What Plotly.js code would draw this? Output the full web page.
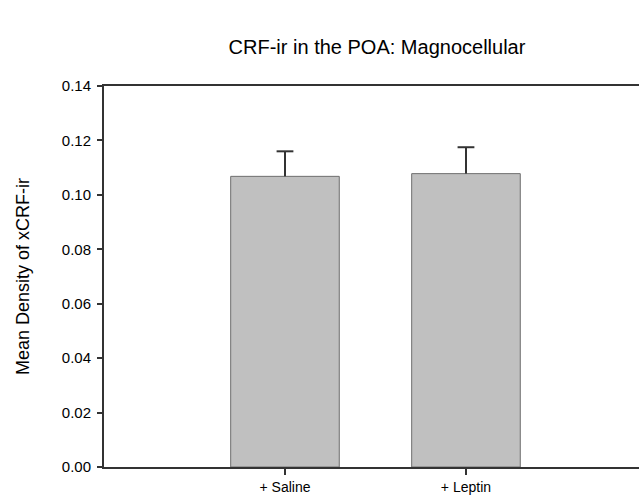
<!DOCTYPE html>
<html>
<head>
<meta charset="utf-8">
<script src="https://cdn.plot.ly/plotly-3.0.1.min.js"></script>
<style>html,body{margin:0;padding:0;background:#fff;}#chart{width:639px;height:497px;}</style>
</head>
<body>
<div id="chart"></div>
<script>
var categories = ["+ Saline", "+ Leptin"];
var meanDensity = [0.1068, 0.1078];
var errorPlus = [0.0092, 0.0097];
var yTickValues = [0, 0.02, 0.04, 0.06, 0.08, 0.10, 0.12, 0.14];
var yTickLabels = ["0.00", "0.02", "0.04", "0.06", "0.08", "0.10", "0.12", "0.14"];

var font = "Liberation Sans, Arial, sans-serif";
var dark = "#333333";

var bars = {
  type: "bar",
  x: categories,
  y: meanDensity,
  width: 0.6,
  marker: {color: "#c0c0c0", line: {color: "#6e6e6e", width: 1}},
  hoverinfo: "none"
};

// error bar stems: drawn from the bar top upward (no cap at the bar top)
var errTops = meanDensity.map(function (v, i) { return v + errorPlus[i]; });
var stems = {
  type: "scatter",
  mode: "markers",
  x: categories,
  y: errTops,
  marker: {symbol: "line-ew-open", size: 12, color: dark, line: {color: dark, width: 2}},
  error_y: {
    type: "data",
    symmetric: false,
    array: [0, 0],
    arrayminus: errorPlus,
    color: dark,
    thickness: 2,
    width: 0
  },
  hoverinfo: "none"
};

var layout = {
  width: 639,
  height: 497,
  paper_bgcolor: "#ffffff",
  plot_bgcolor: "#ffffff",
  margin: {l: 104, r: 0, t: 86, b: 30, pad: 0},
  showlegend: false,
  title: {
    text: "CRF-ir in the POA: Magnocellular",
    font: {family: font, size: 20, color: "#000"},
    x: 0.59, xref: "container", xanchor: "center",
    y: 0.905, yref: "container", yanchor: "middle"
  },
  xaxis: {
    type: "category",
    range: [-1, 1.956],
    showline: true, linecolor: dark, linewidth: 2,
    mirror: true,
    ticks: "outside", ticklen: 6, tickwidth: 2, tickcolor: dark,
    ticklabelstandoff: 0,
    showgrid: false, zeroline: false,
    tickfont: {family: font, size: 14, color: "#000"},
    fixedrange: true
  },
  yaxis: {
    range: [0, 0.14],
    tickvals: yTickValues,
    ticktext: yTickLabels,
    showline: true, linecolor: dark, linewidth: 2,
    ticks: "outside", ticklen: 5, tickwidth: 2, tickcolor: dark,
    ticklabelstandoff: 3,
    showgrid: false, zeroline: false,
    tickfont: {family: font, size: 15, color: "#000"},
    title: {text: "Mean Density of xCRF-ir", font: {family: font, size: 18, color: "#000"}, standoff: 27},
    fixedrange: true
  }
};

Plotly.newPlot("chart", [bars, stems], layout, {displayModeBar: false, staticPlot: true});
</script>
</body>
</html>
